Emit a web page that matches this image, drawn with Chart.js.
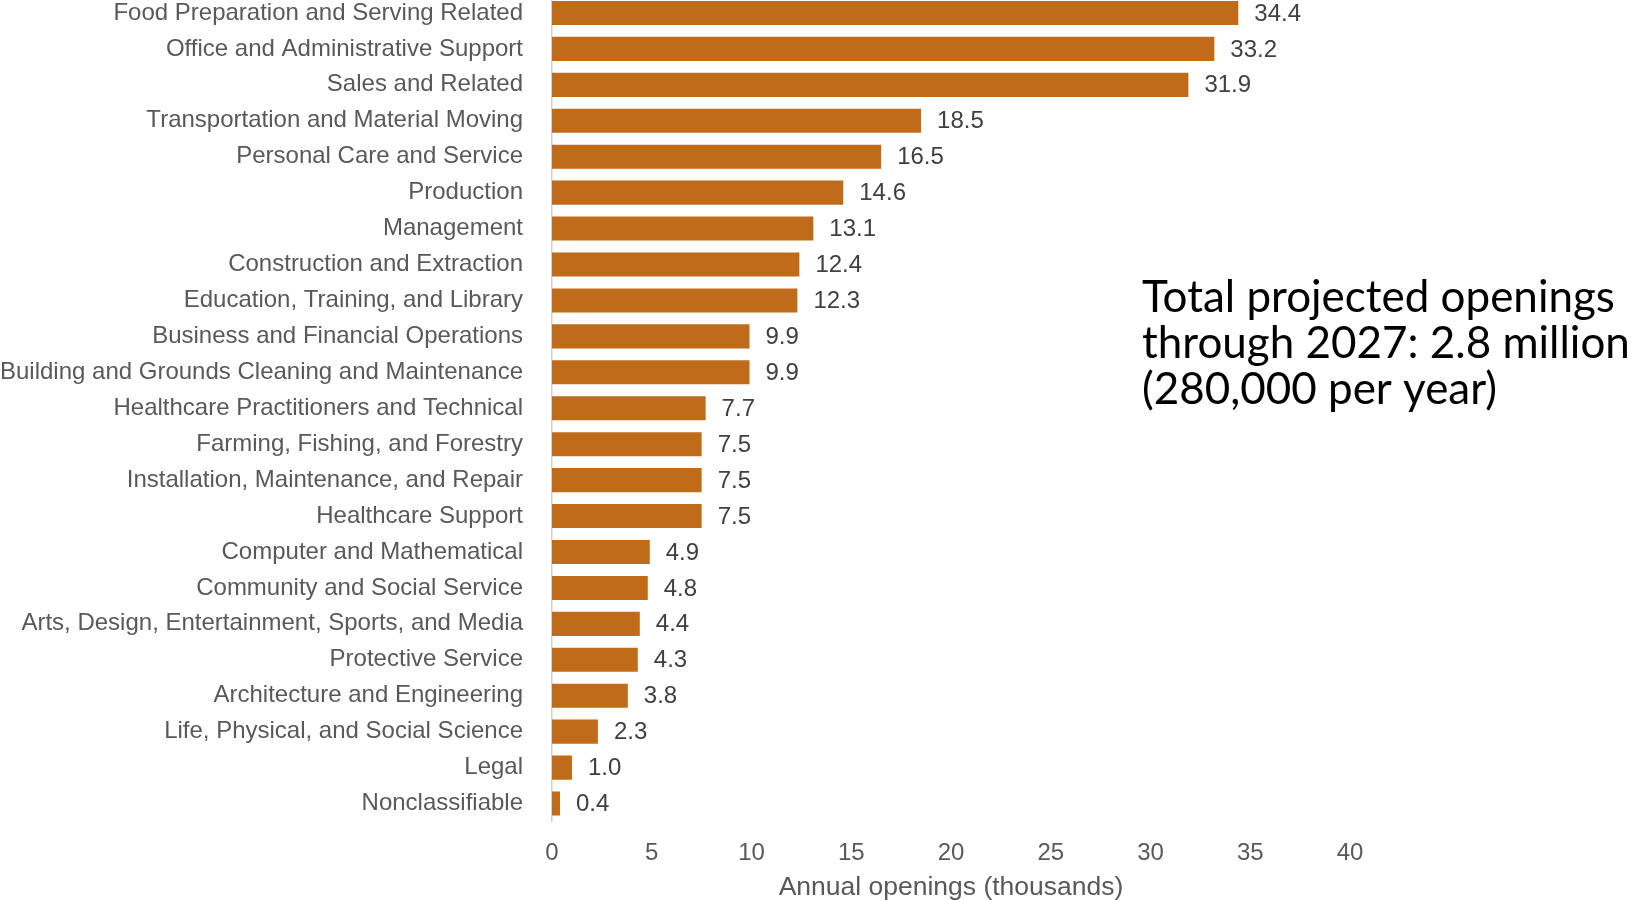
<!DOCTYPE html>
<html>
<head>
<meta charset="utf-8">
<script src="https://cdn.jsdelivr.net/npm/chart.js@4"></script>
<style>
  html, body { margin: 0; padding: 0; background: #fff; overflow: hidden; }
  #wrap { position: absolute; left: 0; top: -5px; width: 1632px; height: 905px; }
</style>
</head>
<body>
<div id="wrap"><canvas id="myChart"></canvas></div>
<script>
const occupations = [
    'Food Preparation and Serving Related',
    'Office and Administrative Support',
    'Sales and Related',
    'Transportation and Material Moving',
    'Personal Care and Service',
    'Production',
    'Management',
    'Construction and Extraction',
    'Education, Training, and Library',
    'Business and Financial Operations',
    'Building and Grounds Cleaning and Maintenance',
    'Healthcare Practitioners and Technical',
    'Farming, Fishing, and Forestry',
    'Installation, Maintenance, and Repair',
    'Healthcare Support',
    'Computer and Mathematical',
    'Community and Social Service',
    'Arts, Design, Entertainment, Sports, and Media',
    'Protective Service',
    'Architecture and Engineering',
    'Life, Physical, and Social Science',
    'Legal',
    'Nonclassifiable'
];

const openings = [34.4, 33.2, 31.9, 18.5, 16.5, 14.6, 13.1, 12.4, 12.3, 9.9, 9.9, 7.7,
    7.5, 7.5, 7.5, 4.9, 4.8, 4.4, 4.3, 3.8, 2.3, 1.0, 0.4];

const xTicks = [0, 5, 10, 15, 20, 25, 30, 35, 40];

const noteLines = [
    'Total projected openings',
    'through 2027: 2.8 million',
    '(280,000 per year)'
];

// value next to the end of each bar
const barValues = {
    id: 'barValues',
    afterDatasetsDraw(chart) {
        const ctx = chart.ctx;
        const meta = chart.getDatasetMeta(0);
        ctx.save();
        ctx.font = '24px "Liberation Sans", Arial, sans-serif';
        ctx.fillStyle = '#404040';
        ctx.textAlign = 'left';
        ctx.textBaseline = 'middle';
        meta.data.forEach((bar, i) => {
            ctx.fillText(openings[i].toFixed(1), bar.x + 16, bar.y + 1);
        });
        ctx.restore();
    }
};

// text block on the right
const totalNote = {
    id: 'totalNote',
    afterDraw(chart) {
        const ctx = chart.ctx;
        ctx.save();
        let size = 40;
        ctx.font = size + 'px Lato, "Open Sans", sans-serif';
        size = size * 488 / ctx.measureText(noteLines[1]).width;
        ctx.font = size + 'px Lato, "Open Sans", sans-serif';
        ctx.fillStyle = '#000';
        ctx.textAlign = 'left';
        ctx.textBaseline = 'alphabetic';
        noteLines.forEach((line, i) => {
            ctx.fillText(line, 1142, 317 + i * 45.8);
        });
        ctx.restore();
    }
};

Chart.defaults.font.family = '"Liberation Sans", Arial, sans-serif';
Chart.defaults.font.size = 24;
Chart.defaults.color = '#595959';

const config = {
    type: 'bar',
    data: {
        labels: occupations,
        datasets: [{
            data: openings,
            backgroundColor: '#BF6B19',
            categoryPercentage: 1,
            barPercentage: 0.67
        }]
    },
    options: {
        indexAxis: 'y',
        responsive: true,
        maintainAspectRatio: false,
        animation: false,
        layout: { padding: { left: 0, right: 282, top: 0, bottom: 0 } },
        plugins: {
            legend: { display: false },
            tooltip: { enabled: false }
        },
        scales: {
            x: {
                min: 0,
                max: 40,
                afterBuildTicks(scale) {
                    scale.ticks = xTicks.map(v => ({ value: v }));
                },
                afterFit(scale) { scale.height = 78.5; },
                grid: { display: false, drawTicks: false },
                border: { display: false },
                ticks: { padding: 17, color: '#595959' },
                title: {
                    display: true,
                    text: 'Annual openings (thousands)',
                    color: '#595959',
                    font: { size: 26.5 },
                    padding: { top: 0, bottom: -4 }
                }
            },
            y: {
                afterFit(scale) {
                    scale.width = 552;
                    // bars run right up to the top edge
                    scale.paddingTop = 0;
                    scale.paddingBottom = 0;
                },
                grid: { display: false, drawTicks: false },
                border: { display: true, color: '#d0d0d0', width: 1.5 },
                ticks: { padding: 29, color: '#595959', autoSkip: false }
            }
        }
    },
    plugins: [barValues, totalNote]
};

var myChart = new Chart(document.getElementById('myChart'), config);
</script>
</body>
</html>
